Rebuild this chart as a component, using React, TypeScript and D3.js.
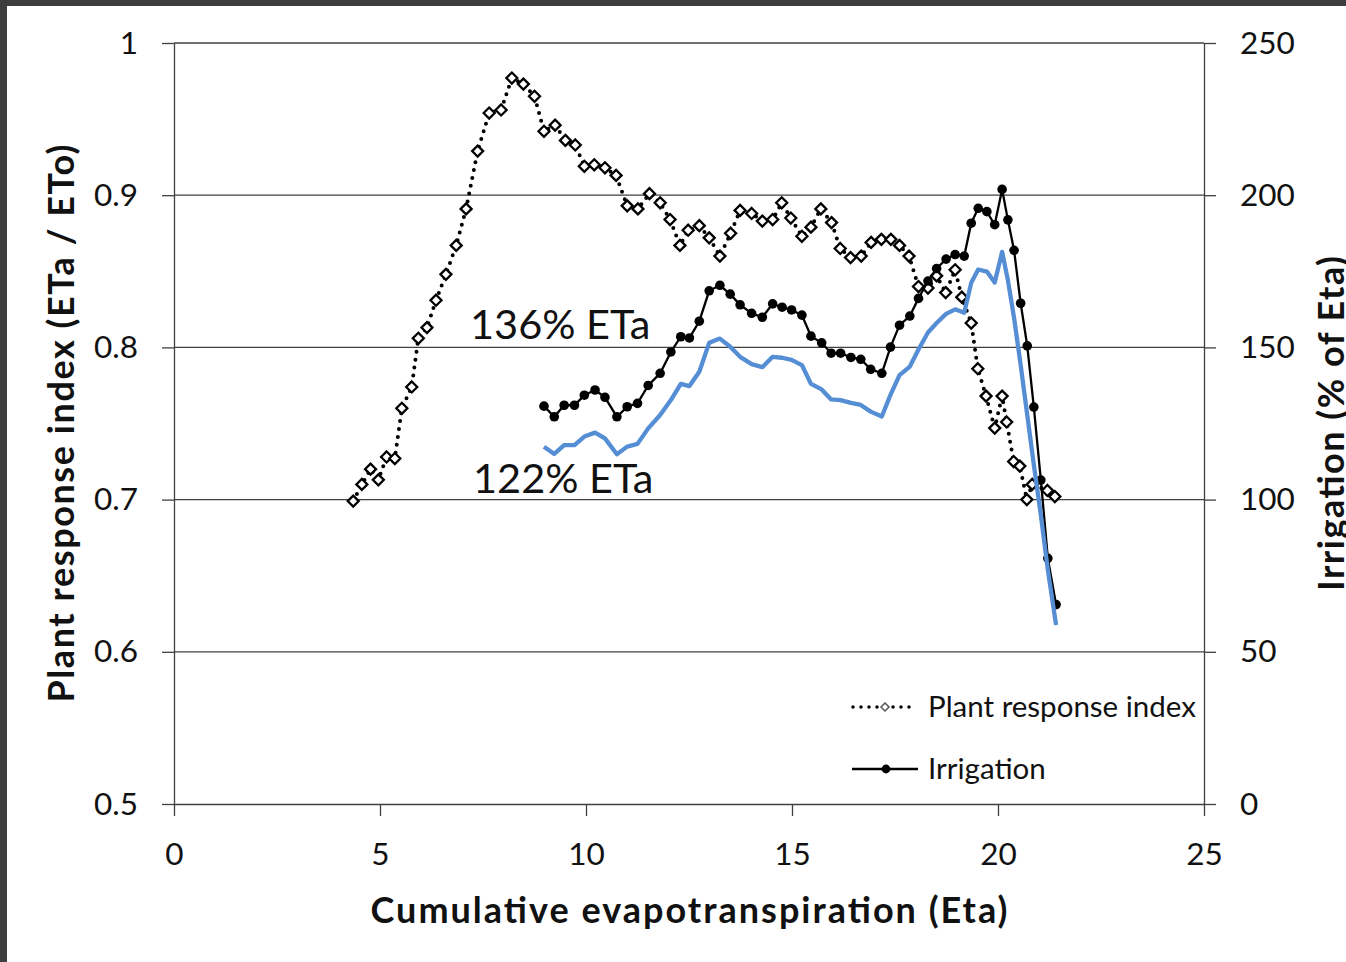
import { useEffect, useRef } from "react";
import * as d3 from "d3";

// Plant response index (dotted line, open diamonds)
const priEta = [
  4.35, 4.56, 4.77, 4.96, 5.16, 5.36, 5.53, 5.77, 5.93, 6.14, 6.36, 6.6, 6.85, 7.09, 7.37, 7.65,
  7.94, 8.2, 8.48, 8.75, 8.98, 9.25, 9.5, 9.74, 9.96, 10.2, 10.46, 10.73, 11.0, 11.26, 11.54,
  11.8, 12.04, 12.28, 12.48, 12.75, 12.99, 13.25, 13.51, 13.74, 14.02, 14.28, 14.53, 14.75,
  14.97, 15.24, 15.46, 15.7, 15.96, 16.17, 16.42, 16.68, 16.92, 17.17, 17.4, 17.61, 17.84,
  18.07, 18.3, 18.51, 18.73, 18.96, 19.12, 19.35, 19.51, 19.71, 19.92, 20.1, 20.21, 20.38,
  20.53, 20.7, 20.83, 21.2, 21.38,
];
const priValue = [
  0.699, 0.71, 0.72, 0.713, 0.728, 0.727, 0.76, 0.774, 0.806, 0.813, 0.831, 0.848, 0.867,
  0.891, 0.929, 0.954, 0.956, 0.977, 0.973, 0.965, 0.942, 0.946, 0.936, 0.933, 0.919, 0.92,
  0.918, 0.913, 0.893, 0.891, 0.901, 0.895, 0.884, 0.867, 0.877, 0.88, 0.872, 0.86, 0.875,
  0.89, 0.888, 0.883, 0.884, 0.895, 0.885, 0.873, 0.879, 0.891, 0.882, 0.865, 0.859, 0.86,
  0.869, 0.871, 0.871, 0.867, 0.86, 0.84, 0.839, 0.847, 0.836, 0.851, 0.833, 0.816, 0.786,
  0.768, 0.747, 0.768, 0.751, 0.725, 0.722, 0.7, 0.71, 0.706, 0.702,
];

// Irrigation, % of ETa (136% ETa, black with dots; 122% ETa, blue)
const irrEta = [
  8.98, 9.23, 9.47, 9.72, 9.96, 10.22, 10.46, 10.75, 11.0, 11.25, 11.51, 11.8, 12.06, 12.3,
  12.51, 12.75, 12.99, 13.25, 13.5, 13.74, 14.02, 14.28, 14.53, 14.76, 14.99, 15.24, 15.46,
  15.72, 15.95, 16.18, 16.43, 16.67, 16.91, 17.18, 17.39, 17.61, 17.86, 18.07, 18.3, 18.51,
  18.74, 18.96, 19.18, 19.35, 19.52, 19.73, 19.92, 20.1, 20.24, 20.39, 20.55, 20.71, 20.87,
  21.04, 21.21, 21.41,
];
const irr136 = [
  130.7, 127.2, 131.0, 131.0, 134.3, 136.0, 133.6, 127.2, 130.5, 131.6, 137.5, 141.5, 148.5,
  153.5, 153.1, 158.6, 168.6, 170.4, 167.5, 164.0, 161.2, 159.9, 164.3, 163.2, 162.3, 160.6,
  153.7, 151.5, 148.1, 148.1, 146.7, 146.1, 142.8, 141.5, 150.1, 157.3, 160.3, 166.1, 171.8,
  175.9, 179.0, 180.5, 180.0, 190.8, 195.7, 194.6, 190.3, 201.9, 191.9, 181.9, 164.5, 150.5,
  130.4, 106.4, 80.7, 65.5,
];
const irr122 = [
  117.4, 115.0, 117.9, 117.9, 120.7, 122.0, 120.1, 114.9, 117.4, 118.3, 123.4, 127.8, 132.7,
  138.0, 137.3, 142.0, 151.5, 152.9, 150.2, 146.9, 144.5, 143.5, 146.9, 146.6, 145.9, 144.2,
  138.0, 136.2, 132.9, 132.7, 131.8, 131.1, 128.9, 127.3, 134.4, 140.9, 143.7, 149.3, 154.9,
  158.0, 161.0, 162.5, 161.4, 171.2, 175.6, 174.9, 171.3, 181.4, 172.1, 159.7, 144.2, 127.8,
  111.4, 94.9, 76.9, 58.8,
];

const leftTicks = [0.5, 0.6, 0.7, 0.8, 0.9, 1];
const rightTicks = [0, 50, 100, 150, 200, 250];
const xTicks = [0, 5, 10, 15, 20, 25];

const FONT = "Lato, 'Open Sans', sans-serif";
const BLUE = "#558ED5";

const diamondPath = (r: number) => `M0,${-r}L${r},0L0,${r}L${-r},0Z`;

export default function App() {
  const svgRef = useRef<SVGSVGElement>(null);

  useEffect(() => {
    if (!svgRef.current) return;
    const svg = d3.select(svgRef.current);
    svg.selectAll("*").remove();

    const width = 1346;
    const height = 962;
    const margin = { top: 43, right: 142, bottom: 158, left: 174 };

    svg.append("rect").attr("width", width).attr("height", height).attr("fill", "#fff");
    // dark frame around the screenshot
    svg.append("rect").attr("width", width).attr("height", 6).attr("fill", "#3d3d3d");
    svg.append("rect").attr("width", 7).attr("height", height).attr("fill", "#3d3d3d");

    const x = d3.scaleLinear().domain([0, 25]).range([margin.left, width - margin.right]);
    const yL = d3.scaleLinear().domain([0.5, 1]).range([height - margin.bottom, margin.top]);
    const yR = d3.scaleLinear().domain([0, 250]).range([height - margin.bottom, margin.top]);

    // horizontal gridlines
    svg.append("g")
      .selectAll("line")
      .data(leftTicks.filter(d => d > 0.5))
      .join("line")
      .attr("x1", x(0))
      .attr("x2", x(25))
      .attr("y1", d => yL(d))
      .attr("y2", d => yL(d))
      .attr("stroke", "#404040")
      .attr("stroke-width", 1.3);

    const styleAxis = (g: d3.Selection<SVGGElement, unknown, null, undefined>) => {
      g.attr("font-family", FONT).attr("font-size", 31.5);
      g.select(".domain").attr("stroke", "#404040").attr("stroke-width", 1.3);
      g.selectAll(".tick line").attr("stroke", "#404040").attr("stroke-width", 1.3);
      g.selectAll(".tick text").attr("fill", "#111");
    };

    svg.append("g")
      .attr("transform", `translate(${x(0)},0)`)
      .call(
        d3.axisLeft(yL)
          .tickValues(leftTicks)
          .tickSize(12)
          .tickSizeOuter(0)
          .tickPadding(24)
          .tickFormat(d => String(+(+d).toFixed(1)))
      )
      .call(styleAxis);

    svg.append("g")
      .attr("transform", `translate(${x(25)},0)`)
      .call(d3.axisRight(yR).tickValues(rightTicks).tickSize(12).tickSizeOuter(0).tickPadding(24))
      .call(styleAxis);

    svg.append("g")
      .attr("transform", `translate(0,${yL(0.5)})`)
      .call(d3.axisBottom(x).tickValues(xTicks).tickSize(12).tickSizeOuter(0).tickPadding(27))
      .call(styleAxis);

    // axis titles
    const midY = (yL(0.5) + yL(1)) / 2;
    const titles = [
      { label: "Plant response index (ETa / ETo)", tx: 61, ty: midY, rot: -90, len: 558 },
      { label: "Irrigation (% of Eta)", tx: 1331, ty: midY, rot: -90, len: 335 },
      { label: "Cumulative evapotranspiration (Eta)", tx: (x(0) + x(25)) / 2, ty: 910, rot: 0, len: 637 },
    ];
    svg.append("g")
      .selectAll("text")
      .data(titles)
      .join("text")
      .attr("transform", d => `translate(${d.tx},${d.ty}) rotate(${d.rot})`)
      .attr("dy", "0.35em")
      .attr("text-anchor", "middle")
      .attr("font-family", FONT)
      .attr("font-weight", "bold")
      .attr("font-size", 36)
      .attr("textLength", d => d.len)
      .attr("lengthAdjust", "spacing")
      .attr("fill", "#111")
      .text(d => d.label);

    // Plant response index series
    const priData = priEta.map((e, i) => ({ x: e, y: priValue[i] }));
    const priLine = d3.line<{ x: number; y: number }>().x(d => x(d.x)).y(d => yL(d.y));
    svg.append("path")
      .datum(priData)
      .attr("d", priLine)
      .attr("fill", "none")
      .attr("stroke", "#000")
      .attr("stroke-width", 4)
      .attr("stroke-linecap", "round")
      .attr("stroke-dasharray", "0 8");
    svg.append("g")
      .selectAll("path")
      .data(priData)
      .join("path")
      .attr("transform", d => `translate(${x(d.x)},${yL(d.y)})`)
      .attr("d", diamondPath(5.5))
      .attr("fill", "#fff")
      .attr("stroke", "#000")
      .attr("stroke-width", 2.3);

    // irrigation series
    const irrLine = d3.line<{ x: number; y: number }>().x(d => x(d.x)).y(d => yR(d.y));
    const irrData136 = irrEta.map((e, i) => ({ x: e, y: irr136[i] }));
    const irrData122 = irrEta.map((e, i) => ({ x: e, y: irr122[i] }));

    svg.append("path")
      .datum(irrData136)
      .attr("d", irrLine)
      .attr("fill", "none")
      .attr("stroke", "#000")
      .attr("stroke-width", 2.3);
    svg.append("g")
      .selectAll("circle")
      .data(irrData136)
      .join("circle")
      .attr("cx", d => x(d.x))
      .attr("cy", d => yR(d.y))
      .attr("r", 4.8)
      .attr("fill", "#000");

    svg.append("path")
      .datum(irrData122)
      .attr("d", irrLine)
      .attr("fill", "none")
      .attr("stroke", BLUE)
      .attr("stroke-width", 4.3)
      .attr("stroke-linejoin", "round");

    // annotations
    const ann = [
      { label: "136% ETa", px: 470, py: 339 },
      { label: "122% ETa", px: 473, py: 493 },
    ];
    svg.append("g")
      .selectAll("text")
      .data(ann)
      .join("text")
      .attr("x", d => d.px)
      .attr("y", d => d.py)
      .attr("font-family", FONT)
      .attr("font-size", 41.5)
      .attr("fill", "#111")
      .text(d => d.label);

    // legend
    const lg = svg.append("g").attr("font-family", FONT).attr("font-size", 29.5).attr("fill", "#111");
    lg.append("line")
      .attr("x1", 853).attr("x2", 916).attr("y1", 707).attr("y2", 707)
      .attr("stroke", "#000").attr("stroke-width", 3.5)
      .attr("stroke-linecap", "round").attr("stroke-dasharray", "0 8");
    lg.append("path")
      .attr("transform", "translate(885,707)")
      .attr("d", diamondPath(4))
      .attr("fill", "#fff").attr("stroke", "#555").attr("stroke-width", 1.5);
    lg.append("text").attr("x", 928).attr("y", 707).attr("dy", "0.35em").text("Plant response index");

    lg.append("line")
      .attr("x1", 852).attr("x2", 918).attr("y1", 769).attr("y2", 769)
      .attr("stroke", "#000").attr("stroke-width", 2.3);
    lg.append("circle").attr("cx", 886).attr("cy", 769).attr("r", 4.4).attr("fill", "#000");
    lg.append("text").attr("x", 928).attr("y", 769).attr("dy", "0.35em").text("Irrigation");
  }, []);

  return (
    <svg
      ref={svgRef}
      width={1346}
      height={962}
      style={{ position: "absolute", left: 0, top: 0, display: "block" }}
    />
  );
}
